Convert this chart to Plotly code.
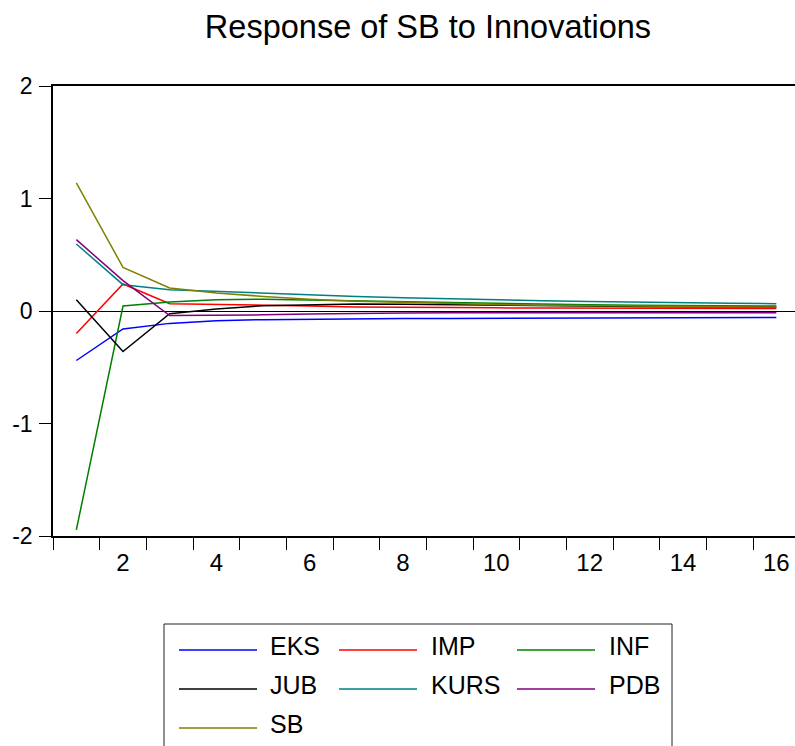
import plotly.graph_objects as go

# Impulse responses of SB over 16 periods
periods = list(range(1, 17))

series_names = ["EKS", "IMP", "INF", "JUB", "KURS", "PDB", "SB"]
series_colors = ["#0000FF", "#FF0000", "#008000", "#000000", "#008080", "#800080", "#808000"]

eks = [-0.44, -0.16, -0.11, -0.086, -0.077, -0.072, -0.069, -0.067, -0.066, -0.064,
       -0.062, -0.061, -0.060, -0.059, -0.058, -0.057]
imp = [-0.20, 0.24, 0.065, 0.060, 0.054, 0.045, 0.036, 0.032, 0.030, 0.028,
       0.027, 0.026, 0.025, 0.024, 0.024, 0.023]
inf = [-1.946, 0.044, 0.080, 0.100, 0.105, 0.098, 0.085, 0.078, 0.071, 0.065,
       0.059, 0.055, 0.051, 0.048, 0.046, 0.044]
jub = [0.10, -0.36, -0.024, 0.018, 0.047, 0.058, 0.063, 0.060, 0.055, 0.050,
       0.046, 0.043, 0.040, 0.038, 0.037, 0.036]
kurs = [0.596, 0.234, 0.19, 0.175, 0.155, 0.140, 0.128, 0.118, 0.108, 0.100,
        0.092, 0.085, 0.078, 0.073, 0.069, 0.065]
pdb = [0.634, 0.27, -0.040, -0.040, -0.034, -0.026, -0.020, -0.017, -0.016, -0.015,
       -0.015, -0.015, -0.015, -0.015, -0.015, -0.015]
sb = [1.139, 0.388, 0.205, 0.160, 0.130, 0.105, 0.087, 0.075, 0.065, 0.057,
      0.051, 0.046, 0.042, 0.039, 0.037, 0.036]

series_values = [eks, imp, inf, jub, kurs, pdb, sb]

y_ticks = [-2, -1, 0, 1, 2]
y_tick_text = ["-2", "-1", "0", "1", "2"]
x_label_ticks = [2, 4, 6, 8, 10, 12, 14, 16]
x_mark_ticks = [p + 0.5 for p in range(0, 17)]

W, H = 795, 746
ML, MR, MT, MB = 53, 0, 86, 210
FONT = "Liberation Sans, Arial, sans-serif"

fig = go.Figure()
for name, color, vals in zip(series_names, series_colors, series_values):
    fig.add_trace(go.Scatter(x=periods, y=vals, mode="lines", name=name,
                             line=dict(color=color, width=1.5), showlegend=False))

fig.update_layout(
    width=W, height=H,
    margin=dict(l=ML, r=MR, t=MT, b=MB, pad=0),
    paper_bgcolor="white", plot_bgcolor="white",
    font=dict(family=FONT, color="black"),
    title=dict(text="Response of SB to Innovations", x=428 / W, xanchor="center",
               y=1 - 27 / H, yanchor="middle", font=dict(size=32.5, family=FONT)),
    xaxis=dict(range=[0.5, 16.4], tickmode="array", tickvals=x_label_ticks,
               ticks="", ticklabelstandoff=4,
               minor=dict(tickmode="array", tickvals=x_mark_ticks, ticks="outside",
                          ticklen=12, tickcolor="black", tickwidth=1),
               showline=True, linecolor="black", linewidth=1.5, mirror=True,
               showgrid=False, zeroline=False, tickfont=dict(size=24)),
    yaxis=dict(range=[-2, 2], tickmode="array", tickvals=y_ticks, ticktext=y_tick_text,
               ticks="outside", ticklen=12, tickcolor="black", tickwidth=1,
               ticklabelstandoff=2,
               showline=True, linecolor="black", linewidth=1.5,
               showgrid=False, zeroline=True, zerolinecolor="black", zerolinewidth=1,
               tickfont=dict(size=23)),
)

# Legend drawn in pixel layout: box, sample lines and labels in three columns
def px_x(px):
    return (px - ML) / (W - ML - MR)

def px_y(py):
    return (H - MB - py) / (H - MT - MB)

shapes = [dict(type="rect", xref="paper", yref="paper",
               x0=px_x(164), x1=px_x(672), y0=px_y(760), y1=px_y(624),
               line=dict(color="#222222", width=1), fillcolor="rgba(0,0,0,0)")]
annotations = []
col_line = [(179, 257), (339, 417), (517, 595)]
col_text = [268, 429, 607]
row_y = [650, 689, 728]
for i, (name, color) in enumerate(zip(series_names, series_colors)):
    r, c = divmod(i, 3)
    x0, x1 = col_line[c]
    shapes.append(dict(type="line", xref="paper", yref="paper",
                       x0=px_x(x0), x1=px_x(x1), y0=px_y(row_y[r]), y1=px_y(row_y[r]),
                       line=dict(color=color, width=1.5)))
    annotations.append(dict(text=name, xref="paper", yref="paper",
                            x=px_x(col_text[c]), y=px_y(row_y[r] - 4),
                            xanchor="left", yanchor="middle", showarrow=False,
                            font=dict(size=25, family=FONT, color="black")))

fig.update_layout(shapes=shapes, annotations=annotations)

fig.write_html("out.html")
